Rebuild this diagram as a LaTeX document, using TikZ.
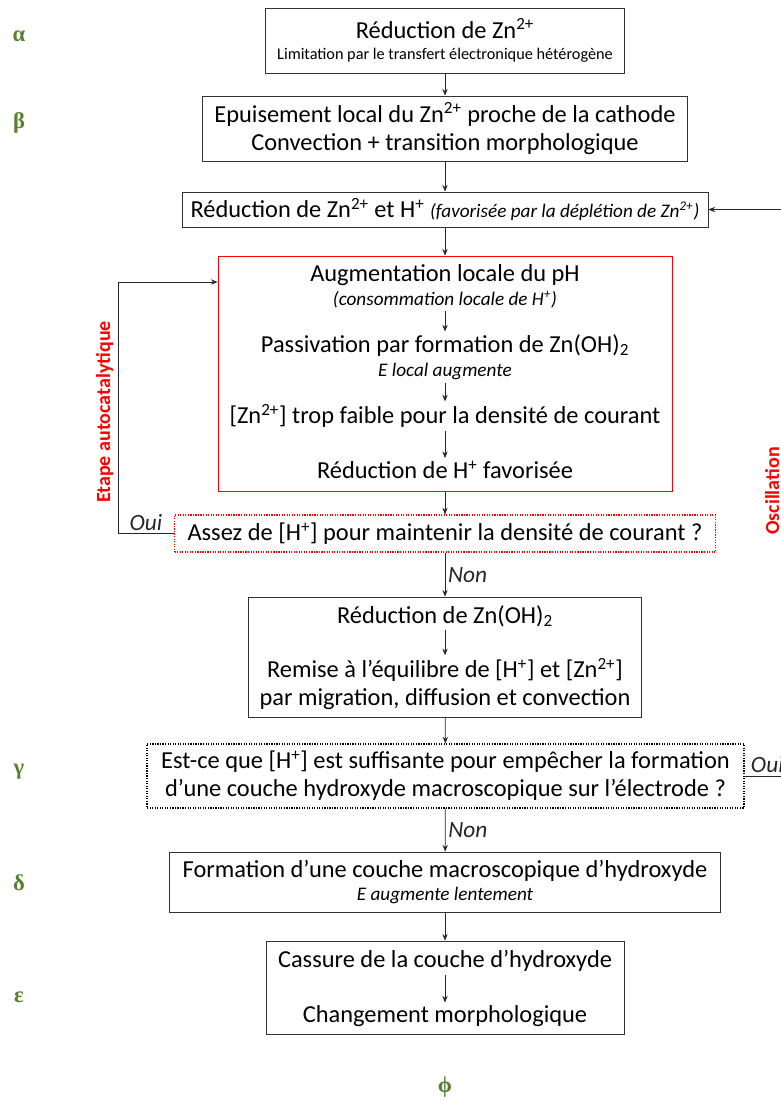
\documentclass[tikz,border=0pt]{standalone}
\usepackage{fontspec}
\setmainfont{Carlito}
\newfontfamily\greekserif{Liberation Serif}
\usetikzlibrary{arrows.meta,positioning}
\newcommand{\pxu}{0.75pt}
\newcommand{\notefont}{\fontsize{12.2}{15}\selectfont}
\newcommand{\itfont}{\fontsize{14.4}{17}\selectfont\itshape}
\definecolor{greekgreen}{RGB}{88,128,48}

\begin{document}
\begin{tikzpicture}[x=0.75pt, y=-0.75pt, >={Stealth[length=5pt,width=4pt]},
  every node/.style={font=\fontsize{18.3}{21}\selectfont, inner sep=2pt},
  box/.style={draw=black!80, line width=0.6pt, align=center, inner sep=0pt},
  redbox/.style={draw=red, line width=0.6pt},
  reddots/.style={draw=red, densely dotted, line width=0.9pt, align=center},
  blackdots/.style={draw=black, densely dotted, line width=0.9pt, align=center},
  txt/.style={align=center},
  greek/.style={text=greekgreen, font=\greekserif\fontsize{17}{19}\selectfont\bfseries},
  side/.style={text=red, rotate=90, anchor=base, font=\fontsize{15}{17}\selectfont\bfseries},
  flow/.style={->, line width=0.6pt, black!85},
  lab/.style={font=\fontsize{17.5}{20}\selectfont\itshape}]
\useasboundingbox (0,0) rectangle (781,1100);
\clip (0,0) rectangle (781,1100);

% stages
\foreach \g/\gy [count=\i] in {α/36, β/123, γ/772, δ/883, ε/997}
  \node[greek] (greek\i) at (19,\gy) {\g};
\node[greek] (phi) at (445,1087) {ϕ};

% main chain
\node[box, minimum width=359*\pxu, minimum height=65*\pxu] (znred) at (445,40.5)
  {Réduction de Zn\textsuperscript{2+}\\[-5pt]{\notefont Limitation par le transfert électronique hétérogène}};
\node[box, minimum width=485*\pxu, minimum height=65*\pxu] (depl) at (445,128.5)
  {Epuisement local du Zn\textsuperscript{2+} proche de la cathode\\Convection + transition morphologique};
\node[box, minimum width=526*\pxu, minimum height=35*\pxu] (duo) at (445,209.5)
  {Réduction de Zn\textsuperscript{2+} et H\textsuperscript{+} {\itfont (favorisée par la déplétion de Zn\textsuperscript{2+})}};

% autocatalytic block
\node[redbox, minimum width=454*\pxu, minimum height=235*\pxu] (auto) at (445,373.5) {};
\node[txt] (ph) at (445,286) {Augmentation locale du pH\\[-3pt]{\itfont (consommation locale de H\textsuperscript{+})}};
\node[txt] (passiv) at (445,357) {Passivation par formation de Zn(OH)\textsubscript{2}\\[-3pt]{\itfont E local augmente}};
\node[txt] (znlow) at (445,416) {[Zn\textsuperscript{2+}] trop faible pour la densité de courant};
\node[txt] (hred) at (445,470) {Réduction de H\textsuperscript{+} favorisée};
\node[reddots, minimum width=541*\pxu, minimum height=37*\pxu] (qh) at (445,533.5)
  {Assez de [H\textsuperscript{+}]\ pour maintenir la densité de courant ?};

% re-equilibration
\node[box, minimum width=393*\pxu, minimum height=120*\pxu] (reeq) at (445,657) {};
\node[txt] (znoh) at (445,616) {Réduction de Zn(OH)\textsubscript{2}};
\node[txt] (remise) at (445,684) {Remise à l’équilibre de [H\textsuperscript{+}] et [Zn\textsuperscript{2+}]\\par migration, diffusion et convection};
\node[blackdots, minimum width=597*\pxu, minimum height=64*\pxu] (qmac) at (445.5,776)
  {Est-ce que [H\textsuperscript{+}] est suffisante pour empêcher la formation\\d’une couche hydroxyde macroscopique sur l’électrode ?};

% hydroxide layer
\node[box, minimum width=551*\pxu, minimum height=60*\pxu] (couche) at (445,882)
  {Formation d’une couche macroscopique d’hydroxyde\\[-4pt]{\itfont E augmente lentement}};
\node[box, minimum width=358*\pxu, minimum height=93*\pxu] (casse) at (445,987.5) {};
\node[txt] (cass) at (445,961) {Cassure de la couche d’hydroxyde};
\node[txt] (morph) at (445,1016) {Changement morphologique};

% arrows
\draw[flow] (znred) -- (depl);
\draw[flow] (depl) -- (duo);
\draw[flow] (duo) -- (auto);
\draw[flow] (ph) -- (passiv);
\draw[flow] (passiv) -- (znlow);
\draw[flow] (znlow) -- (hred);
\draw[flow] (auto) -- (qh);
\draw[flow] (qh) -- node[lab, right]{Non} (reeq);
\draw[flow] (znoh) -- (remise);
\draw[flow] (reeq) -- (qmac);
\draw[flow] (qmac) -- node[lab, right]{Non} (couche);
\draw[flow] (couche) -- (casse);
\draw[flow] (cass) -- (morph);

% loops
\coordinate (loopup) at (118,282);
\draw[flow] (qh.west) -- node[lab, above]{Oui} (qh.west -| loopup) -- (loopup) -- (loopup -| auto.west);
\coordinate (loopright) at (790,776);
\draw[flow] (qmac.east) -- node[lab, above]{Oui} (loopright) |- (duo.east);

\node[side] (etape) at (110,412) {Etape autocatalytique};
\node[side] (osc) at (779,491) {Oscillation};
\end{tikzpicture}
\end{document}
